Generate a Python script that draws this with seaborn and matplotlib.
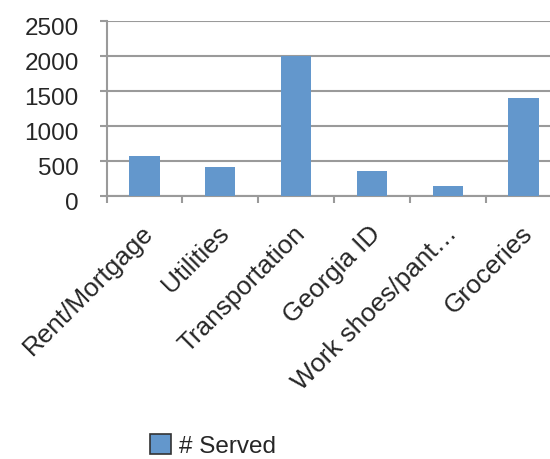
import matplotlib
matplotlib.use("Agg")
import matplotlib.pyplot as plt
import matplotlib.transforms as mtransforms
import seaborn as sns
import pandas as pd

categories = ["Rent/Mortgage", "Utilities", "Transportation", "Georgia ID",
              "Work shoes/pant\u2026", "Groceries"]
served = [565, 410, 2000, 350, 140, 1400]
series_name = "# Served"
yticks = [0, 500, 1000, 1500, 2000, 2500]

sns.set_theme(style="white")
plt.rcParams["font.family"] = ["Liberation Sans", "DejaVu Sans"]

df = pd.DataFrame({"cat": categories, "val": served})

fig = plt.figure(figsize=(5.5, 4.59), dpi=100)
W, H = 550, 459
left, right, top, bottom = 106.5, 561.5, 20.7, 195.7
ax = fig.add_axes([left / W, (H - bottom) / H, (right - left) / W, (bottom - top) / H])

bar_color = "#6397CC"
grid_color = "#9A9A9A"
sns.barplot(data=df, x="cat", y="val", color=bar_color, width=0.4, ax=ax,
            label=series_name, saturation=1, edgecolor="none", zorder=3)

ax.set_xlim(-0.5, len(categories) - 0.5)
ax.set_ylim(0, 2500)
ax.set_yticks(yticks)
ax.set_xlabel("")
ax.set_ylabel("")
ax.yaxis.grid(True, color=grid_color, linewidth=1.5, zorder=0)
ax.set_axisbelow(True)
for s in ["top", "right"]:
    ax.spines[s].set_visible(False)
ax.spines["left"].set_color(grid_color)
ax.spines["left"].set_linewidth(1.5)
ax.spines["bottom"].set_color(grid_color)
ax.spines["bottom"].set_linewidth(1.5)

ax.tick_params(axis="y", which="major", length=5, width=1.5, color=grid_color,
               labelsize=17.5, pad=15, left=True, direction="out")
ax.set_xticks(range(len(categories)))
ax.set_xticks([i - 0.5 for i in range(len(categories) + 1)], minor=True)
ax.tick_params(axis="x", which="major", length=0, labelsize=18.8, pad=24.5)
ax.tick_params(axis="x", which="minor", length=5, width=1.5, color=grid_color,
               bottom=True, direction="out")
ax.set_xticklabels(categories, rotation=45, ha="right", va="center",
                   rotation_mode="anchor")

dy = mtransforms.ScaledTranslation(0, -6 / 100, fig.dpi_scale_trans)
for lab in ax.get_yticklabels():
    lab.set_transform(lab.get_transform() + dy)
dx = mtransforms.ScaledTranslation(5 / 100, 0, fig.dpi_scale_trans)
for lab in ax.get_xticklabels():
    lab.set_transform(lab.get_transform() + dx)

handles, labels = ax.get_legend_handles_labels()
if ax.get_legend() is not None:
    ax.get_legend().remove()
leg = fig.legend(handles, labels, loc="center left",
                 bbox_to_anchor=(150 / W, (H - 446) / H), frameon=False,
                 fontsize=17.5, handlelength=0.85, handleheight=0.85,
                 handletextpad=0.33, borderpad=0, borderaxespad=0)
for h in leg.legend_handles:
    h.set_edgecolor("#333333")
    h.set_linewidth(1.2)

fig.savefig("out.png", dpi=100)
